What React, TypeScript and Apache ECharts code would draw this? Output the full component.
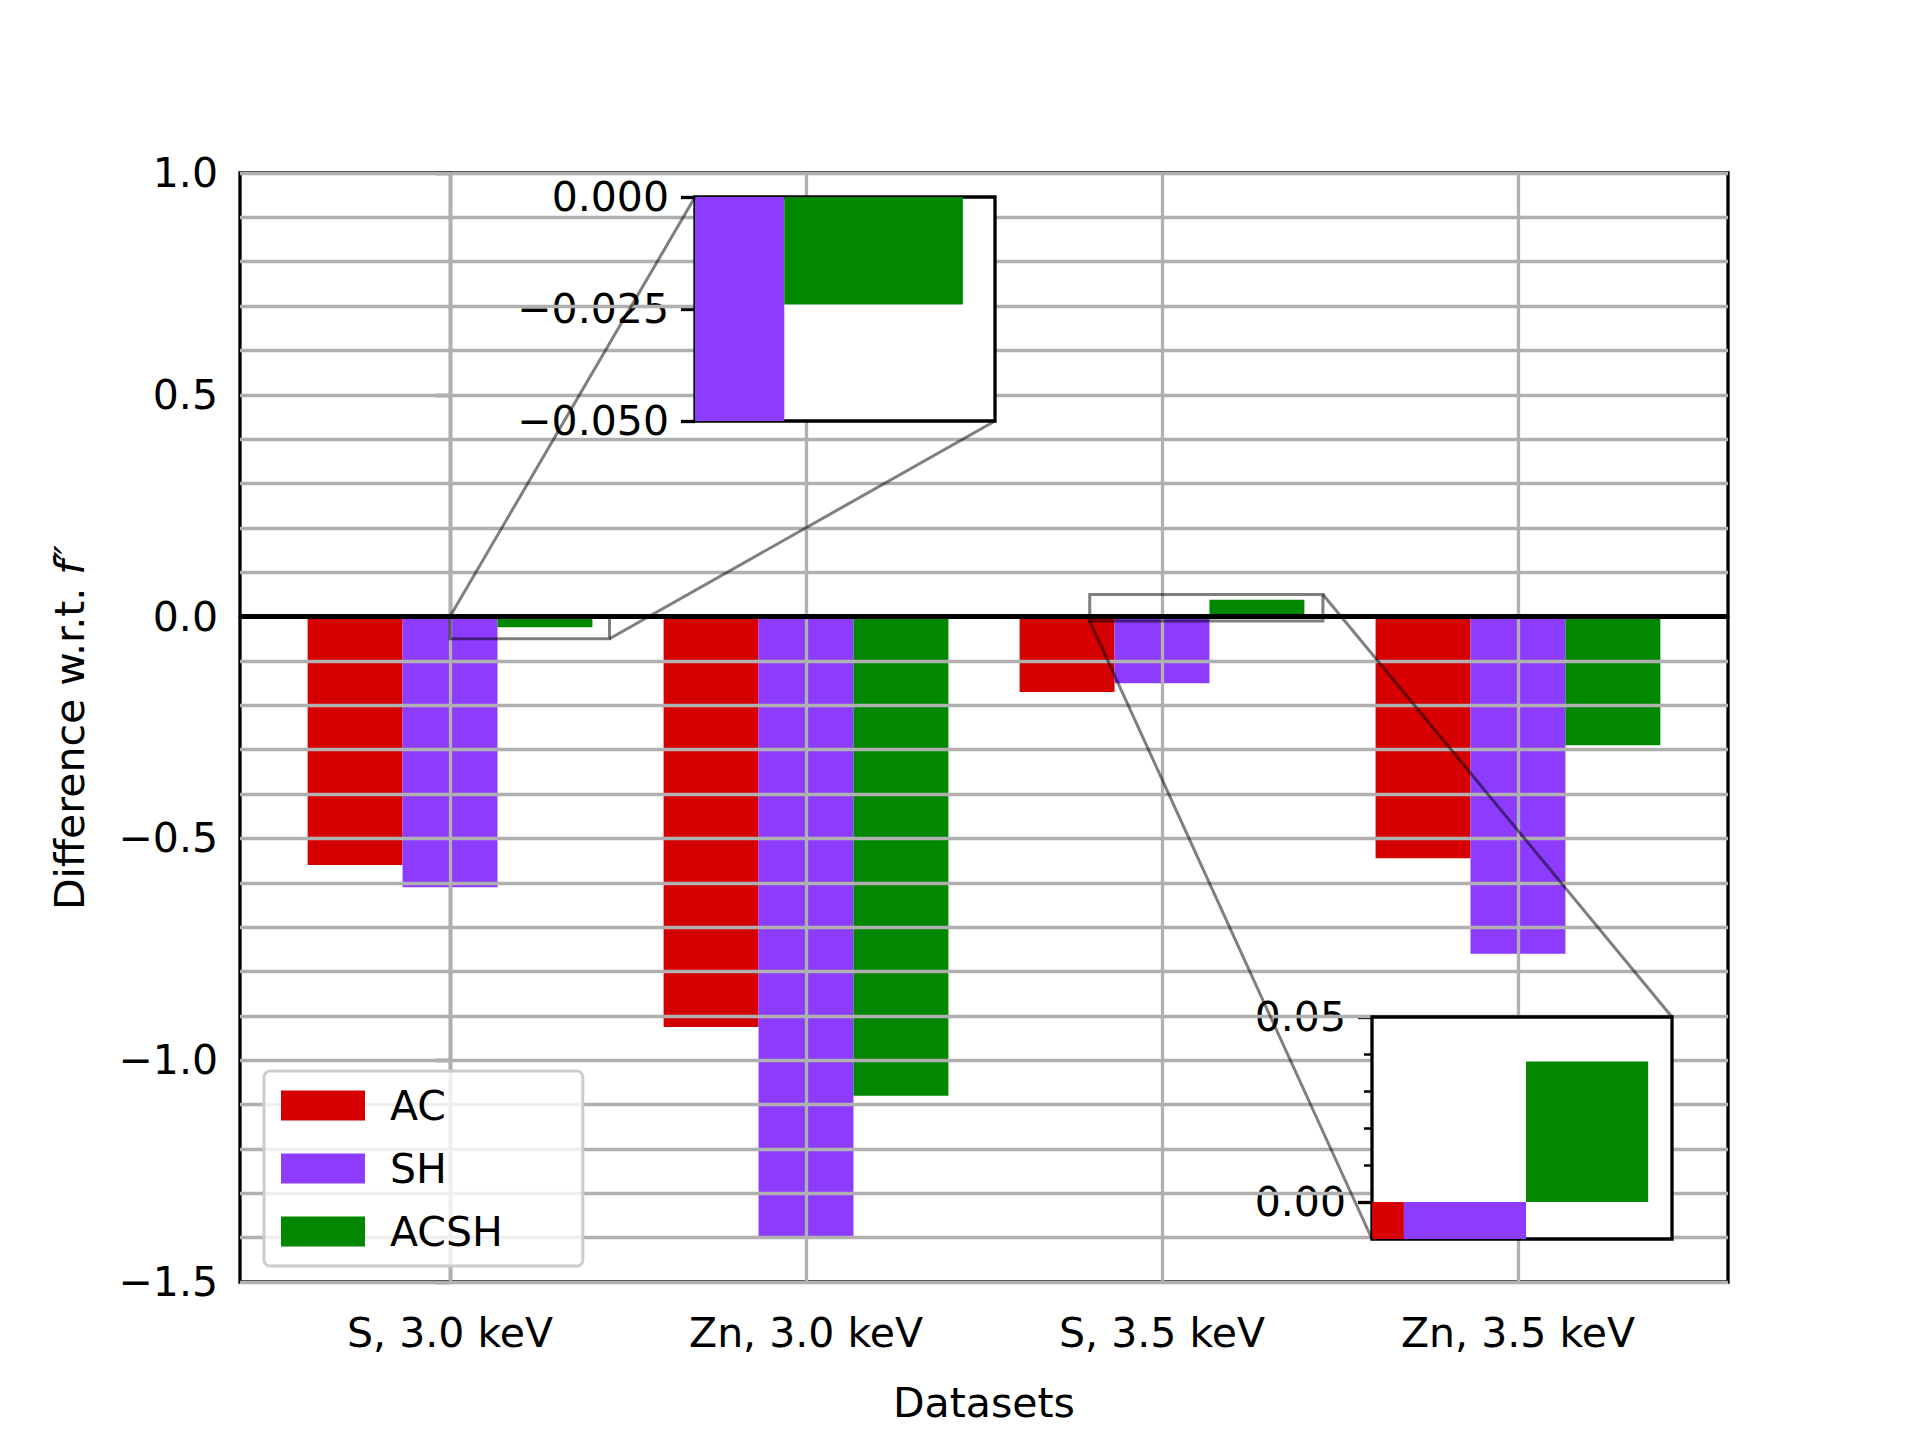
import React, { useEffect, useRef } from 'react';
import * as echarts from 'echarts';

const categories = ['S, 3.0 keV', 'Zn, 3.0 keV', 'S, 3.5 keV', 'Zn, 3.5 keV'];
const seriesNames = ['AC', 'SH', 'ACSH'];
const colors = ['#d60000', '#8c3bff', '#018700'];
const acValues = [-0.56, -0.925, -0.17, -0.545];
const shValues = [-0.61, -1.4, -0.15, -0.76];
const acshValues = [-0.024, -1.08, 0.038, -0.29];
const mainYTicks = [-1.5, -1.0, -0.5, 0.0, 0.5, 1.0];

const BW = 0.8 / 3;
const FONT = 'DejaVu Sans';
const FS = 41;
const minus = (s: string) => s.replace('-', '\u2212');

const App: React.FC = () => {
  const chartRef = useRef<HTMLDivElement>(null);

  useEffect(() => {
    if (!chartRef.current) return;
    const myChart = echarts.init(chartRef.current, null, { renderer: 'svg' });
    const all = [acValues, shValues, acshValues];

    // 3 bar series per grid, drawn through api.coord
    const renderBar = (params: any, api: any) => {
      const x = api.value(0);
      const y = api.value(1);
      const p1 = api.coord([x - BW / 2, Math.max(y, 0)]);
      const p2 = api.coord([x + BW / 2, Math.min(y, 0)]);
      const rect = echarts.graphic.clipRectByRect(
        { x: p1[0], y: p1[1], width: p2[0] - p1[0], height: p2[1] - p1[1] },
        params.coordSys as any
      );
      return rect ? { type: 'rect', shape: rect, style: { fill: api.visual('color') } } : null;
    };

    const series: any[] = [];
    [0, 1, 2].forEach((g) => {
      seriesNames.forEach((name, s) => {
        series.push({
          type: 'custom',
          name,
          xAxisIndex: g,
          yAxisIndex: g,
          z: g === 0 ? 2 : 20,
          itemStyle: { color: colors[s] },
          renderItem: renderBar,
          data: all[s].map((v, i) => [i + (s - 1) * BW, v]),
        });
      });
    });

    // grid lines on top of the bars (as in the reference)
    const gridY: number[] = [];
    for (let k = -15; k <= 10; k++) gridY.push(k / 10);
    const greyLine = { color: '#b0b0b0', width: 3.3, type: 'solid' };
    series.push({
      type: 'line',
      xAxisIndex: 0,
      yAxisIndex: 0,
      data: [],
      z: 5,
      markLine: {
        silent: true,
        symbol: 'none',
        label: { show: false },
        animation: false,
        data: [
          ...gridY.map((v) => ({ yAxis: v, lineStyle: greyLine })),
          ...[0, 1, 2, 3].map((v) => ({ xAxis: v, lineStyle: greyLine })),
          { yAxis: 0, lineStyle: { color: '#000', width: 5, type: 'solid' } },
        ],
      },
    });
    series.push({
      type: 'line',
      xAxisIndex: 2,
      yAxisIndex: 2,
      data: [],
      z: 25,
      markLine: {
        silent: true,
        symbol: 'none',
        label: { show: false },
        animation: false,
        data: [{ yAxis: 0, lineStyle: { color: '#000', width: 5, type: 'solid' } }],
      },
    });

    const black = { color: '#000', width: 3.3 };
    const label = { color: '#000', fontFamily: FONT, fontSize: FS };

    const option: any = {
      animation: false,
      textStyle: { fontFamily: FONT },
      legend: {
        data: seriesNames.map((n, i) => ({ name: n, itemStyle: { color: colors[i] } })),
        orient: 'vertical',
        left: 264,
        top: 1071,
        width: 267,
        itemWidth: 84,
        itemHeight: 30,
        itemGap: 22,
        padding: [14, 80, 14, 17],
        borderColor: '#cccccc',
        borderWidth: 3,
        borderRadius: 6,
        backgroundColor: 'rgba(255,255,255,0.8)',
        textStyle: { ...label, padding: [0, 0, 0, 20] },
        icon: 'rect',
        z: 30,
      },
      grid: [
        { left: 240, right: 192, top: 173, bottom: 158, show: true, borderColor: '#000', borderWidth: 3.3 },
        { left: 695, top: 197, width: 300, height: 224, show: true, backgroundColor: '#fff', borderColor: '#000', borderWidth: 3.3, z: 15 },
        { left: 1372, top: 1017, width: 300, height: 222, show: true, backgroundColor: '#fff', borderColor: '#000', borderWidth: 3.3, z: 15 },
      ],
      xAxis: [
        {
          type: 'value', gridIndex: 0, min: -0.59, max: 3.59,
          name: 'Datasets', nameLocation: 'middle', nameGap: 100,
          nameTextStyle: label,
          axisLine: { lineStyle: black },
          axisTick: { customValues: [0, 1, 2, 3], length: 14, lineStyle: black },
          axisLabel: { customValues: [0, 1, 2, 3], formatter: (v: number) => categories[Math.round(v)], margin: 30, ...label },
          splitLine: { show: false },
        },
        {
          type: 'value', gridIndex: 1, min: 0, max: 0.448,
          axisLine: { show: false },
          axisTick: { customValues: [0, 0.25], length: 14, lineStyle: black },
          axisLabel: { show: false },
          splitLine: { show: false },
        },
        {
          type: 'value', gridIndex: 2, min: 1.797, max: 2.452,
          axisLine: { show: false },
          axisTick: { customValues: [2, 2.25], length: 14, lineStyle: black },
          axisLabel: { show: false },
          splitLine: { show: false },
        },
      ],
      yAxis: [
        {
          type: 'value', gridIndex: 0, min: -1.5, max: 1, interval: 0.5,
          name: 'Difference w.r.t. {i|f\u2033}', nameLocation: 'middle', nameGap: 150,
          nameTextStyle: { ...label, rich: { i: { ...label, fontStyle: 'italic' } } },
          axisLine: { show: true, lineStyle: black },
          axisTick: { length: 14, lineStyle: black },
          minorTick: { show: true, splitNumber: 5, length: 8, lineStyle: { color: '#000', width: 2.5 } },
          axisLabel: { formatter: (v: number) => minus(v.toFixed(1)), margin: 22, ...label },
          splitLine: { show: false },
        },
        {
          type: 'value', gridIndex: 1, min: -0.05, max: 0, interval: 0.025,
          axisLine: { show: false },
          axisTick: { length: 14, lineStyle: black },
          axisLabel: { formatter: (v: number) => minus(v.toFixed(3)), margin: 26, ...label },
          splitLine: { show: false },
        },
        {
          type: 'value', gridIndex: 2, min: -0.01, max: 0.05,
          axisLine: { show: false },
          axisTick: { customValues: [0, 0.05], length: 14, lineStyle: black },
          minorTick: { show: false },
          axisLabel: { customValues: [0, 0.05], formatter: (v: number) => v.toFixed(2), margin: 26, ...label },
          splitLine: { show: false },
        },
        {
          type: 'value', gridIndex: 2, min: -0.01, max: 0.05, position: 'left',
          axisLine: { show: false },
          axisTick: { customValues: [0.01, 0.02, 0.03, 0.04], length: 8, lineStyle: { color: '#000', width: 2.5 } },
          axisLabel: { show: false },
          splitLine: { show: false },
        },
      ],
      series,
    };
    myChart.setOption(option);

    // zoom boxes and connector lines, placed with the chart's own scales
    const px = (g: number, p: number[]) => myChart.convertToPixel({ gridIndex: g } as any, p) as number[];
    const edge = { stroke: 'rgba(0,0,0,0.5)', lineWidth: 3, fill: 'none' };
    const box = (a: number[], b: number[]) => ({
      type: 'rect', z: 40,
      shape: { x: Math.min(a[0], b[0]), y: Math.min(a[1], b[1]), width: Math.abs(b[0] - a[0]), height: Math.abs(b[1] - a[1]) },
      style: edge,
    });
    const line = (a: number[], b: number[]) => ({
      type: 'line', z: 40, shape: { x1: a[0], y1: a[1], x2: b[0], y2: b[1] }, style: edge,
    });
    const b1a = px(0, [0, 0]);
    const b1b = px(0, [0.448, -0.05]);
    const b2a = px(0, [1.797, 0.05]);
    const b2b = px(0, [2.452, -0.01]);
    myChart.setOption({
      graphic: [
        box(b1a, b1b),
        box(b2a, b2b),
        line(b1a, px(1, [0, 0])),
        line(b1b, px(1, [0.448, -0.05])),
        line([b2a[0], b2b[1]], px(2, [1.797, -0.01])),
        line([b2b[0], b2a[1]], px(2, [2.452, 0.05])),
      ],
    });

    return () => {
      myChart.dispose();
    };
  }, []);

  return (
    <div
      ref={chartRef}
      style={{ position: 'fixed', left: 0, top: 0, width: 1920, height: 1440, background: '#fff' }}
    ></div>
  );
};

export default App;
